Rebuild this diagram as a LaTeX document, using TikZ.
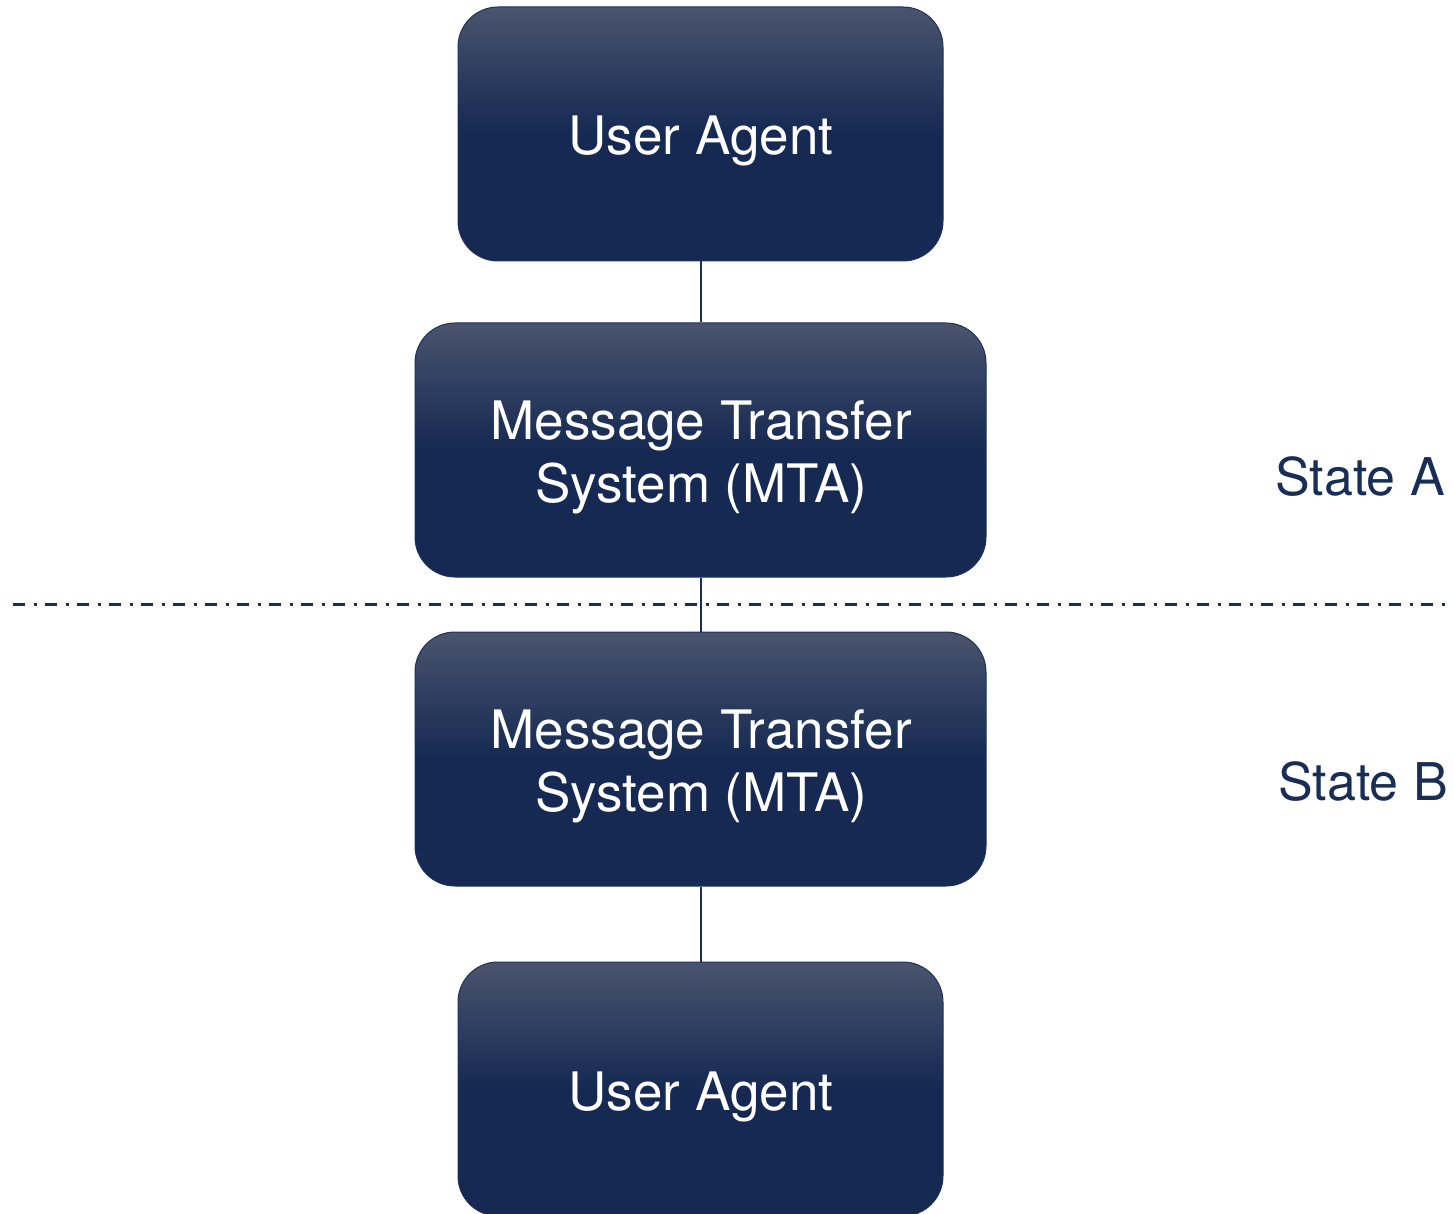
\documentclass[tikz,border=0pt]{standalone}
\usepackage{fontspec}
\setmainfont{TeX Gyre Heros}
\definecolor{navy}{RGB}{24,46,86}
\definecolor{boxtop}{RGB}{74,84,110}
\definecolor{boxbot}{RGB}{21,41,82}
\definecolor{boxline}{RGB}{30,50,90}
\begin{document}
\begin{tikzpicture}[x=1pt,y=-1pt,
  agent/.style={rectangle, rounded corners=40pt, draw=boxline, line width=1pt,
    top color=boxtop, bottom color=boxbot, middle color=boxbot,
    inner sep=0pt, minimum height=254pt},
  narrowbox/.style={agent, minimum width=485pt},
  widebox/.style={agent, minimum width=571pt},
  boxtext/.style={text=white, align=center, inner sep=0pt,
    font=\fontsize{53}{63}\selectfont},
  link/.style={draw=navy, line width=2pt},
  divider/.style={draw=navy, line width=3pt, dash pattern=on 12pt off 8.5pt on 3pt off 8.5pt},
  statelabel/.style={text=navy, font=\fontsize{52}{63}\selectfont, inner sep=0pt}]
  \useasboundingbox (0,0) rectangle (1454,1214);
  \path[clip] (0,0) rectangle (1454,1214);

  % separator between the two states
  \coordinate (divL) at (13,604);
  \coordinate (divR) at (1450,604);
  \draw[divider] (divL) -- (divR);

  % the four stations of the message path
  \node[narrowbox] (ua1) at (700.5,134) {};
  \node[widebox] (mta1) at (700.5,450) {};
  \node[widebox] (mta2) at (700.5,759) {};
  \node[narrowbox] (ua2) at (700.5,1089) {};

  % their captions
  \node[boxtext, anchor=base] (ua1t) at (701,155) {User Agent};
  \node[boxtext] (mta1t) at (701,457) {Message Transfer\\System (MTA)};
  \node[boxtext] (mta2t) at (701,766) {Message Transfer\\System (MTA)};
  \node[boxtext, anchor=base] (ua2t) at (701,1110) {User Agent};

  % connections
  \draw[link] (ua1.south) -- (mta1.north);
  \draw[link] (mta1.south) -- (mta2.north);
  \draw[link] (mta2.south) -- (ua2.north);

  % state labels
  \node[statelabel, anchor=base] (stA) at (1360,495) {State A};
  \node[statelabel, anchor=base] (stB) at (1363,800) {State B};
\end{tikzpicture}
\end{document}
